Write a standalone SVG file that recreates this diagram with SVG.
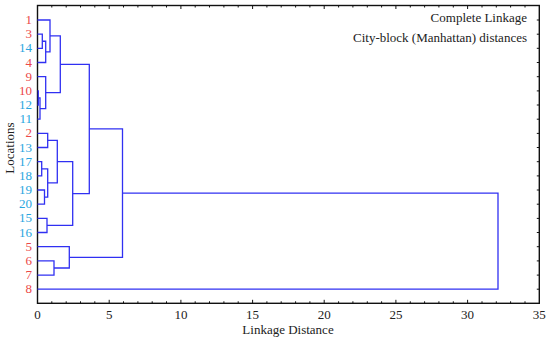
<svg xmlns="http://www.w3.org/2000/svg" width="550" height="342" viewBox="0 0 550 342">
<style>
text{font-family:"Liberation Serif","Times New Roman",serif;font-size:13px}
.r{fill:#ec4848}
.b{fill:#2aa6e0}
.lbl text{text-anchor:end}
.tk text{text-anchor:middle;fill:#222}
.ln{fill:none;stroke:#3030f2;stroke-width:1.3}
.ax{fill:none;stroke:#111;stroke-width:1.4}
.tc{fill:none;stroke:#111;stroke-width:1}
</style>
<rect width="550" height="342" fill="#fff"/>
<g id="frame">
<rect class="ax" x="37.5" y="5.5" width="501.8" height="297.8"/>
<path class="tc" d="M37.5,303.3v-2M51.8,303.3v-2M66.2,303.3v-2M80.5,303.3v-2M94.8,303.3v-2M109.2,303.3v-3.5M123.5,303.3v-2M137.9,303.3v-2M152.2,303.3v-2M166.5,303.3v-2M180.9,303.3v-3.5M195.2,303.3v-2M209.5,303.3v-2M223.9,303.3v-2M238.2,303.3v-2M252.6,303.3v-3.5M266.9,303.3v-2M281.2,303.3v-2M295.6,303.3v-2M309.9,303.3v-2M324.2,303.3v-3.5M338.6,303.3v-2M352.9,303.3v-2M367.3,303.3v-2M381.6,303.3v-2M395.9,303.3v-3.5M410.3,303.3v-2M424.6,303.3v-2M438.9,303.3v-2M453.3,303.3v-2M467.6,303.3v-3.5M482,303.3v-2M496.3,303.3v-2M510.6,303.3v-2M525,303.3v-2"/>
<path class="tc" d="M51.8,5.5v2M66.2,5.5v2M80.5,5.5v2M94.8,5.5v2M109.2,5.5v3.5M123.5,5.5v2M137.9,5.5v2M152.2,5.5v2M166.5,5.5v2M180.9,5.5v3.5M195.2,5.5v2M209.5,5.5v2M223.9,5.5v2M238.2,5.5v2M252.6,5.5v3.5M266.9,5.5v2M281.2,5.5v2M295.6,5.5v2M309.9,5.5v2M324.2,5.5v3.5M338.6,5.5v2M352.9,5.5v2M367.3,5.5v2M381.6,5.5v2M395.9,5.5v3.5M410.3,5.5v2M424.6,5.5v2M438.9,5.5v2M453.3,5.5v2M467.6,5.5v3.5M482,5.5v2M496.3,5.5v2M510.6,5.5v2M525,5.5v2"/>
<path class="tc" d="M539.3,20h-2.5M539.3,34.2h-2.5M539.3,48.3h-2.5M539.3,62.5h-2.5M539.3,76.7h-2.5M539.3,90.9h-2.5M539.3,105h-2.5M539.3,119.2h-2.5M539.3,133.4h-2.5M539.3,147.5h-2.5M539.3,161.7h-2.5M539.3,175.9h-2.5M539.3,190h-2.5M539.3,204.2h-2.5M539.3,218.4h-2.5M539.3,232.5h-2.5M539.3,246.7h-2.5M539.3,260.9h-2.5M539.3,275.1h-2.5M539.3,289.2h-2.5"/>
</g>
<g id="leaf-labels" class="lbl">
<text class="r" x="32" y="24">1</text>
<text class="r" x="32" y="38.2">3</text>
<text class="b" x="32" y="52.3">14</text>
<text class="r" x="32" y="66.5">4</text>
<text class="r" x="32" y="80.7">9</text>
<text class="r" x="32" y="94.9">10</text>
<text class="b" x="32" y="109">12</text>
<text class="b" x="32" y="123.2">11</text>
<text class="r" x="32" y="137.4">2</text>
<text class="b" x="32" y="151.5">13</text>
<text class="b" x="32" y="165.7">17</text>
<text class="b" x="32" y="179.9">18</text>
<text class="b" x="32" y="194">19</text>
<text class="b" x="32" y="208.2">20</text>
<text class="b" x="32" y="222.4">15</text>
<text class="b" x="32" y="236.5">16</text>
<text class="r" x="32" y="250.7">5</text>
<text class="r" x="32" y="264.9">6</text>
<text class="r" x="32" y="279.1">7</text>
<text class="r" x="32" y="293.2">8</text>
</g>
<g id="x-ticks" class="tk">
<text x="37.5" y="318.5">0</text>
<text x="109.2" y="318.5">5</text>
<text x="180.9" y="318.5">10</text>
<text x="252.6" y="318.5">15</text>
<text x="324.2" y="318.5">20</text>
<text x="395.9" y="318.5">25</text>
<text x="467.6" y="318.5">30</text>
<text x="539.3" y="318.5">35</text>
</g>
<g id="titles" fill="#222">
<text x="288" y="333.5" text-anchor="middle">Linkage Distance</text>
<text transform="translate(14,148) rotate(-90)" text-anchor="middle" font-size="13.5">Locations</text>
<text x="527" y="21.5" text-anchor="end">Complete Linkage</text>
<text x="527" y="41.5" text-anchor="end">City-block (Manhattan) distances</text>
</g>
<g id="connectors">
<path class="ln" d="M37.5,34.2H42.3V48.3H37.5"/>
<path class="ln" d="M42.3,41.25H45.7V62.5H37.5"/>
<path class="ln" d="M37.5,20H50V51.9H45.7"/>
<path class="ln" d="M37.5,90.9H38.3V105H37.5"/>
<path class="ln" d="M38.3,97.95H40V119.2H37.5"/>
<path class="ln" d="M37.5,76.7H45.7V108.6H40"/>
<path class="ln" d="M50,35.95H60.3V92.65H45.7"/>
<path class="ln" d="M37.5,133.4H47.7V147.5H37.5"/>
<path class="ln" d="M37.5,161.7H41.7V175.9H37.5"/>
<path class="ln" d="M37.5,190H44.5V204.2H37.5"/>
<path class="ln" d="M41.7,168.8H47.7V197.1H44.5"/>
<path class="ln" d="M47.7,140.45H57.3V182.95H47.7"/>
<path class="ln" d="M37.5,218.4H47V232.5H37.5"/>
<path class="ln" d="M57.3,161.7H72.7V225.45H47"/>
<path class="ln" d="M60.3,64.3H89.3V193.6H72.7"/>
<path class="ln" d="M37.5,260.9H54V275.1H37.5"/>
<path class="ln" d="M37.5,246.7H69.3V268H54"/>
<path class="ln" d="M89.3,128.95H122.5V257.35H69.3"/>
<path class="ln" d="M122.5,193.15H498V289.2H37.5"/>
</g>
</svg>
